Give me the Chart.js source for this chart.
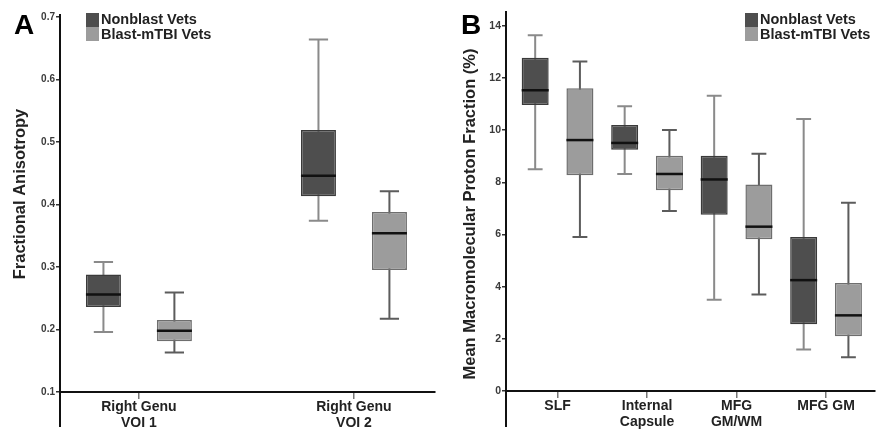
<!DOCTYPE html>
<html>
<head>
<meta charset="utf-8">
<script src="https://cdn.jsdelivr.net/npm/chart.js@4.4.1/dist/chart.umd.min.js"></script>
<style>
  body { margin: 0; background: #fff; width: 876px; height: 432px; overflow: hidden; position: relative; }
  canvas { position: absolute; top: 0; }
</style>
</head>
<body>
<canvas id="chart-a" width="440" height="432" style="left:0"></canvas>
<canvas id="chart-b" width="436" height="432" style="left:440px"></canvas>
<script>
// ---- panel A: fractional anisotropy ----
const faRegions = [["Right Genu", "VOI 1"], ["Right Genu", "VOI 2"]];
const faTicks = [0.1, 0.2, 0.3, 0.4, 0.5, 0.6, 0.7];
const faNonblastMin = [0.196, 0.374];
const faNonblastQ1 = [0.236, 0.413];
const faNonblastMedian = [0.256, 0.446];
const faNonblastQ3 = [0.288, 0.519];
const faNonblastMax = [0.308, 0.664];
const faBlastMin = [0.163, 0.217];
const faBlastQ1 = [0.181, 0.295];
const faBlastMedian = [0.198, 0.354];
const faBlastQ3 = [0.215, 0.388];
const faBlastMax = [0.259, 0.421];

// ---- panel B: macromolecular proton fraction ----
const mpfRegions = ["SLF", ["Internal", "Capsule"], ["MFG", "GM/WM"], "MFG GM"];
const mpfTicks = [0, 2, 4, 6, 8, 10, 12, 14];
const mpfNonblastMin = [8.5, 8.32, 3.5, 1.59];
const mpfNonblastQ1 = [10.96, 9.25, 6.76, 2.56];
const mpfNonblastMedian = [11.53, 9.51, 8.11, 4.25];
const mpfNonblastQ3 = [12.78, 10.2, 9.02, 5.9];
const mpfNonblastMax = [13.64, 10.92, 11.32, 10.43];
const mpfBlastMin = [5.9, 6.9, 3.7, 1.29];
const mpfBlastQ1 = [8.27, 7.7, 5.82, 2.1];
const mpfBlastMedian = [9.62, 8.32, 6.3, 2.9];
const mpfBlastQ3 = [11.61, 9.02, 7.92, 4.14];
const mpfBlastMax = [12.63, 10.01, 9.1, 7.22];

const groupNames = ["Nonblast Vets", "Blast-mTBI Vets"];
const FONT = "'Liberation Sans', Arial, Helvetica, sans-serif";
Chart.defaults.font.family = FONT;

function boxData(offset, q1, q3) {
  return q1.map((v, i) => ({ x: i + 1 + offset, y: [v, q3[i]] }));
}

// whiskers behind the boxes, medians on top, plus the panel decorations
const boxPlotExtras = {
  id: 'boxPlotExtras',
  beforeDatasetsDraw(chart) {
    const ctx = chart.ctx, y = chart.scales.y;
    chart.data.datasets.forEach((ds, d) => {
      chart.getDatasetMeta(d).data.forEach((bar, i) => {
        const cap = bar.width * 0.55 / 2;
        const top = y.getPixelForValue(ds.whiskerMax[i]);
        const bot = y.getPixelForValue(ds.whiskerMin[i]);
        ctx.save();
        ctx.strokeStyle = ds.whiskerColor;
        ctx.lineWidth = 2;
        ctx.beginPath();
        ctx.moveTo(bar.x, top); ctx.lineTo(bar.x, bot);
        ctx.moveTo(bar.x - cap, top); ctx.lineTo(bar.x + cap, top);
        ctx.moveTo(bar.x - cap, bot); ctx.lineTo(bar.x + cap, bot);
        ctx.stroke();
        ctx.restore();
      });
    });
  },
  afterDatasetsDraw(chart) {
    const ctx = chart.ctx, y = chart.scales.y;
    chart.data.datasets.forEach((ds, d) => {
      chart.getDatasetMeta(d).data.forEach((bar, i) => {
        const m = y.getPixelForValue(ds.medians[i]);
        ctx.save();
        ctx.strokeStyle = '#111';
        ctx.lineWidth = 2.5;
        ctx.beginPath();
        ctx.moveTo(bar.x - bar.width / 2, m);
        ctx.lineTo(bar.x + bar.width / 2, m);
        ctx.stroke();
        ctx.restore();
      });
    });
  },
  afterDraw(chart, args, opts) {
    const ctx = chart.ctx, area = chart.chartArea;
    ctx.save();
    // y axis runs on below the x axis
    ctx.strokeStyle = '#111';
    ctx.lineWidth = 2;
    ctx.beginPath();
    ctx.moveTo(area.left, area.bottom);
    ctx.lineTo(area.left, 427);
    ctx.stroke();

    // panel letter
    ctx.fillStyle = '#000';
    ctx.font = "bold 28px " + FONT;
    ctx.textBaseline = 'alphabetic';
    ctx.textAlign = 'left';
    ctx.fillText(opts.letter, opts.letterX, 34);

    // legend
    const swatches = ['#4e4e4e', '#9c9c9c'];
    ctx.font = "bold 14.5px " + FONT;
    ctx.textBaseline = 'middle';
    groupNames.forEach((name, i) => {
      ctx.fillStyle = swatches[i];
      ctx.fillRect(opts.legendX, 13 + i * 14, 13, 14);
      ctx.fillStyle = '#222';
      ctx.fillText(name, opts.legendX + 15, 20 + i * 14.5);
    });

    // y axis title
    ctx.translate(opts.titleX, opts.titleY);
    ctx.rotate(-Math.PI / 2);
    ctx.textAlign = 'center';
    ctx.font = "bold 16.5px " + FONT;
    ctx.fillStyle = '#222';
    ctx.fillText(opts.title, 0, 0);
    ctx.restore();
  }
};

function makeChart(id, cfg) {
  return new Chart(document.getElementById(id), {
    type: 'bar',
    data: {
      datasets: [
        {
          label: groupNames[0],
          data: boxData(-cfg.offset, cfg.nonblast.q1, cfg.nonblast.q3),
          whiskerMin: cfg.nonblast.min, whiskerMax: cfg.nonblast.max, medians: cfg.nonblast.median,
          whiskerColor: '#8a8a8a',
          backgroundColor: '#4e4e4e', borderColor: '#3a3a3a',
          borderWidth: 1.5, borderSkipped: false, grouped: false,
          maxBarThickness: cfg.boxWidth
        },
        {
          label: groupNames[1],
          data: boxData(cfg.offset, cfg.blast.q1, cfg.blast.q3),
          whiskerMin: cfg.blast.min, whiskerMax: cfg.blast.max, medians: cfg.blast.median,
          whiskerColor: '#5c5c5c',
          backgroundColor: '#9c9c9c', borderColor: '#6e6e6e',
          borderWidth: 1.5, borderSkipped: false, grouped: false,
          maxBarThickness: cfg.boxWidth
        }
      ]
    },
    options: {
      responsive: false,
      animation: false,
      layout: { padding: cfg.padding },
      plugins: {
        legend: { display: false },
        tooltip: { enabled: false },
        boxPlotExtras: cfg.extras
      },
      scales: {
        x: {
          type: 'linear',
          offset: false,
          min: cfg.xMin, max: cfg.xMax,
          afterBuildTicks: s => { s.ticks = cfg.regions.map((_, i) => ({ value: i + 1 })); },
          afterFit: s => { s.height = cfg.xHeight; },
          ticks: {
            callback: v => cfg.regions[v - 1],
            font: { size: 14, weight: 'bold', lineHeight: 1.08 },
            color: '#222', padding: 1, maxRotation: 0, autoSkip: false
          },
          grid: { offset: false, drawOnChartArea: false, drawTicks: true, tickLength: 7, color: '#777', lineWidth: 1.5 },
          border: { display: true, color: '#111', width: 2 }
        },
        y: {
          min: cfg.yMin, max: cfg.yMax,
          afterBuildTicks: s => { s.ticks = cfg.yTicks.map(v => ({ value: v })); },
          afterFit: s => { s.width = cfg.yWidth; },
          ticks: {
            callback: cfg.yFormat,
            font: { size: cfg.yTickSize, weight: 'bold' },
            color: '#3a3a3a', padding: 1
          },
          grid: { drawOnChartArea: false, drawTicks: true, tickLength: 4, color: '#333', lineWidth: 1.5 },
          border: { display: true, color: '#111', width: 2 }
        }
      }
    },
    plugins: [boxPlotExtras]
  });
}

makeChart('chart-a', {
  regions: faRegions,
  nonblast: { min: faNonblastMin, q1: faNonblastQ1, median: faNonblastMedian, q3: faNonblastQ3, max: faNonblastMax },
  blast: { min: faBlastMin, q1: faBlastQ1, median: faBlastMedian, q3: faBlastQ3, max: faBlastMax },
  offset: 0.165, boxWidth: 35,
  xMin: 0.633, xMax: 2.377, xHeight: 40,
  yMin: 0.1, yMax: 0.703, yTicks: faTicks, yWidth: 60, yTickSize: 10,
  yFormat: v => v.toFixed(1),
  padding: { top: 15, right: 5, left: 0, bottom: 0 },
  extras: { letter: 'A', letterX: 14, legendX: 86, title: 'Fractional Anisotropy', titleX: 20, titleY: 194 }
});

makeChart('chart-b', {
  regions: mpfRegions,
  nonblast: { min: mpfNonblastMin, q1: mpfNonblastQ1, median: mpfNonblastMedian, q3: mpfNonblastQ3, max: mpfNonblastMax },
  blast: { min: mpfBlastMin, q1: mpfBlastQ1, median: mpfBlastMedian, q3: mpfBlastQ3, max: mpfBlastMax },
  offset: 0.25, boxWidth: 27,
  xMin: 0.424, xMax: 4.547, xHeight: 41,
  yMin: 0, yMax: 14.53, yTicks: mpfTicks, yWidth: 66, yTickSize: 10.5,
  yFormat: v => String(v),
  padding: { top: 12, right: 1, left: 0, bottom: 0 },
  extras: { letter: 'B', letterX: 21, legendX: 305, title: 'Mean Macromolecular Proton Fraction (%)', titleX: 30, titleY: 214 }
});
</script>
</body>
</html>
